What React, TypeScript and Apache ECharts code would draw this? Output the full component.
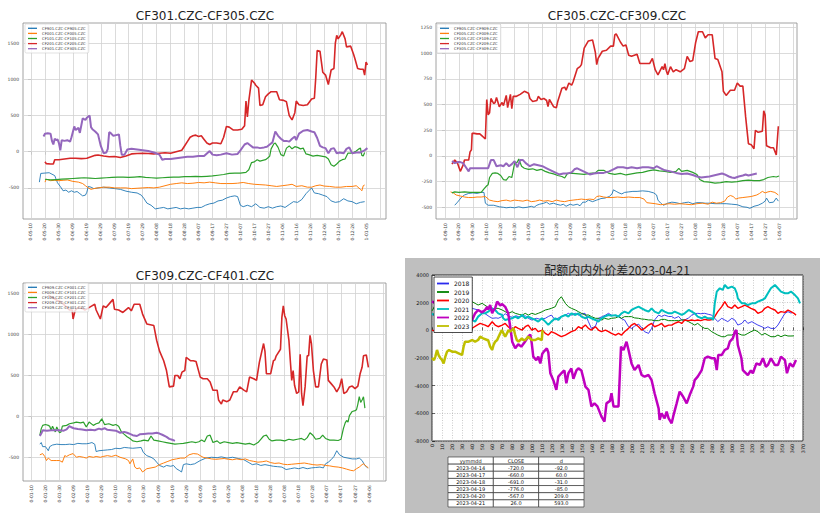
import React, { useEffect, useRef } from "react";
import * as echarts from "echarts";

// ---------------- tick labels ----------------
const p1XLabels = ["0-05-10","0-05-20","0-05-30","0-06-09","0-06-19","0-06-29","0-07-09","0-07-19","0-07-29","0-08-08","0-08-18","0-08-28","0-09-07","0-09-17","0-09-27","0-10-07","0-10-17","0-10-27","0-11-06","0-11-16","0-11-26","0-12-06","0-12-16","0-12-26","1-01-05"];
const p2XLabels = ["0-09-10","0-09-20","0-09-30","0-10-10","0-10-20","0-10-30","0-11-09","0-11-19","0-11-29","0-12-09","0-12-19","0-12-29","1-01-08","1-01-18","1-01-28","1-02-07","1-02-17","1-02-27","1-03-08","1-03-18","1-03-28","1-04-07","1-04-17","1-04-27","1-05-07"];
const p3XLabels = ["0-01-10","0-01-20","0-01-30","0-02-09","0-02-19","0-02-29","0-03-10","0-03-20","0-03-30","0-04-09","0-04-19","0-04-29","0-05-09","0-05-19","0-05-29","0-06-08","0-06-18","0-06-28","0-07-08","0-07-18","0-07-28","0-08-07","0-08-17","0-08-27","0-09-06"];
const dayTicks = [0,10,20,30,40,50,60,70,80,90,100,110,120,130,140,150,160,170,180,190,200,210,220,230,240,250];
const dayLabelTicks = [0,10,20,30,40,50,60,70,80,90,100,110,120,130,140,150,160,170,180,190,200,210,220,230,240];
const p1YTicks = [-500,0,500,1000,1500];
const p2YTicks = [-500,-250,0,250,500,750,1000,1250];
const p3YTicks = [-500,0,500,1000,1500];

// ---------------- series names ----------------
const p1Names = ["CF901.CZC-CF905.CZC","CF001.CZC-CF005.CZC","CF101.CZC-CF105.CZC","CF201.CZC-CF205.CZC","CF301.CZC-CF305.CZC"];
const p2Names = ["CF905.CZC-CF909.CZC","CF005.CZC-CF009.CZC","CF105.CZC-CF109.CZC","CF205.CZC-CF209.CZC","CF305.CZC-CF309.CZC"];
const p3Names = ["CF909.CZC-CF001.CZC","CF009.CZC-CF101.CZC","CF109.CZC-CF201.CZC","CF209.CZC-CF301.CZC","CF309.CZC-CF401.CZC"];
const p4Names = ["2018","2019","2020","2021","2022","2023"];

// ---------------- panel 1 : CF301-CF305 ([day, spread]) ----------------
const p1Blue = [[6,-420],[7,-300],[10,-295],[13,-290],[15,-310],[17,-330],[19,-430],[21,-480],[23,-540],[25,-530],[27,-560],[29,-540],[31,-560],[33,-550],[35,-580],[37,-610],[39,-600],[40,-560],[41,-480],[43,-490],[45,-510],[48,-500],[52,-490],[56,-500],[60,-510],[64,-520],[68,-545],[72,-560],[76,-570],[79,-600],[81,-650],[83,-710],[86,-740],[89,-790],[92,-780],[95,-770],[98,-790],[101,-780],[104,-770],[107,-790],[110,-780],[113,-790],[116,-780],[119,-770],[122,-770],[125,-740],[128,-720],[131,-710],[134,-680],[137,-670],[140,-640],[143,-620],[146,-610],[148,-620],[150,-740],[152,-760],[155,-740],[158,-760],[161,-720],[164,-770],[167,-780],[170,-760],[173,-780],[176,-760],[179,-750],[182,-770],[185,-730],[188,-690],[191,-700],[194,-660],[197,-580],[199,-540],[201,-500],[203,-570],[206,-580],[209,-600],[212,-620],[215,-680],[218,-700],[221,-690],[224,-650],[227,-680],[230,-690],[233,-720],[236,-700],[239,-690]];
const p1Orange = [[10,-420],[11,-380],[14,-400],[17,-395],[20,-400],[23,-395],[26,-390],[30,-410],[34,-420],[37,-440],[39,-470],[41,-500],[43,-520],[45,-510],[48,-500],[52,-490],[56,-490],[60,-500],[64,-500],[68,-500],[72,-510],[76,-505],[80,-500],[84,-495],[88,-500],[92,-490],[96,-470],[100,-450],[104,-440],[108,-430],[112,-440],[116,-435],[120,-425],[124,-430],[128,-420],[132,-430],[136,-440],[140,-440],[144,-440],[148,-435],[152,-425],[156,-440],[160,-450],[164,-455],[168,-460],[172,-470],[176,-480],[180,-470],[184,-460],[187,-450],[190,-480],[194,-470],[198,-490],[201,-490],[204,-470],[207,-460],[210,-475],[214,-480],[218,-490],[222,-490],[226,-480],[230,-480],[233,-470],[236,-520],[237,-540],[238,-470],[239,-460]];
const p1Green = [[10,-380],[14,-390],[18,-385],[22,-380],[26,-375],[30,-370],[34,-365],[38,-360],[42,-365],[46,-370],[50,-365],[54,-360],[58,-355],[62,-350],[66,-350],[70,-355],[74,-350],[78,-345],[82,-355],[86,-360],[90,-365],[94,-360],[98,-355],[102,-350],[106,-350],[110,-345],[114,-345],[118,-340],[122,-345],[126,-340],[130,-335],[134,-325],[138,-315],[142,-300],[146,-295],[150,-295],[154,-285],[156,-250],[158,-150],[160,-140],[162,-110],[164,-130],[166,-120],[168,-110],[170,-80],[171,-60],[172,40],[174,110],[175,120],[177,60],[179,-40],[181,-60],[183,50],[185,80],[187,40],[189,70],[191,60],[193,40],[195,50],[197,-30],[199,-40],[202,-60],[205,-50],[208,-60],[211,-70],[213,-100],[215,-180],[217,-200],[219,-170],[221,-130],[223,-110],[225,-100],[227,-20],[229,-20],[231,-10],[233,10],[235,40],[236,50],[237,-50],[238,-60],[239,-10]];
const p1Red = [[10,-140],[11,-165],[14,-170],[16,-170],[17,-110],[20,-110],[24,-100],[28,-90],[32,-90],[36,-95],[40,-90],[43,-70],[46,-50],[48,-45],[52,-60],[56,-70],[60,-65],[64,-80],[68,-60],[72,-30],[76,-25],[80,-20],[84,-25],[88,-30],[92,-20],[96,-15],[100,-20],[104,0],[106,10],[108,20],[110,80],[112,140],[114,200],[116,220],[118,230],[120,210],[122,220],[124,170],[126,120],[128,100],[130,120],[133,120],[136,110],[138,200],[140,350],[142,340],[145,300],[148,300],[151,310],[153,360],[154,700],[155,480],[156,700],[158,990],[160,950],[161,920],[163,880],[164,640],[166,650],[168,760],[170,800],[172,830],[176,830],[178,720],[181,710],[183,690],[185,500],[187,440],[189,540],[190,700],[192,650],[195,640],[198,650],[201,730],[203,740],[204,1030],[205,1400],[207,1390],[209,1100],[211,1060],[213,930],[215,1130],[217,1150],[218,1500],[219,1610],[220,1560],[222,1620],[223,1660],[225,1560],[226,1450],[229,1460],[231,1350],[232,1290],[234,1150],[236,1140],[238,1140],[239,1060],[240,1240],[241,1200]];
const p1Purple = [[9,210],[10,250],[12,255],[14,250],[15,150],[16,100],[17,180],[18,160],[19,170],[20,120],[21,20],[22,160],[24,150],[26,160],[28,140],[29,200],[31,350],[32,300],[34,330],[35,260],[37,460],[39,440],[40,470],[42,500],[43,340],[44,310],[46,280],[48,240],[50,80],[52,-20],[54,-10],[55,40],[56,270],[57,260],[59,220],[61,230],[63,240],[64,80],[65,-40],[67,-40],[69,30],[72,40],[76,30],[80,20],[84,10],[88,-10],[92,-40],[94,-110],[96,-100],[100,-100],[104,-90],[108,-80],[112,-70],[116,-70],[120,-60],[124,-60],[128,10],[130,-40],[133,-50],[136,-40],[140,-20],[144,-40],[148,-30],[150,20],[153,100],[155,120],[157,90],[159,60],[162,60],[164,50],[167,60],[169,70],[171,100],[173,130],[175,280],[177,220],[179,180],[181,150],[183,150],[185,140],[187,180],[189,210],[190,160],[192,250],[195,290],[198,300],[201,280],[203,270],[205,190],[207,80],[209,60],[211,50],[213,-20],[215,40],[217,50],[219,-20],[221,-10],[224,-20],[226,40],[228,60],[230,-20],[233,-10],[236,-10],[239,20],[241,50]];

// ---------------- panel 2 : CF305-CF309 ----------------
const p2Blue = [[7,-480],[9,-450],[12,-400],[14,-380],[17,-365],[20,-360],[23,-365],[26,-355],[28,-355],[29,-460],[31,-480],[35,-480],[39,-495],[42,-500],[44,-505],[47,-500],[50,-505],[53,-495],[56,-505],[59,-500],[62,-490],[64,-500],[66,-480],[68,-470],[71,-460],[73,-450],[75,-470],[78,-460],[80,-470],[83,-480],[85,-470],[87,-490],[90,-470],[92,-480],[95,-470],[97,-485],[99,-450],[101,-450],[103,-430],[106,-445],[109,-430],[112,-415],[115,-410],[118,-395],[120,-370],[121,-330],[123,-345],[125,-360],[127,-370],[129,-355],[132,-350],[135,-345],[138,-345],[142,-340],[146,-345],[150,-360],[152,-380],[153,-430],[155,-460],[157,-480],[160,-460],[163,-450],[166,-455],[169,-465],[172,-455],[175,-450],[178,-465],[181,-455],[184,-455],[187,-460],[190,-460],[194,-465],[198,-465],[202,-465],[206,-470],[210,-475],[214,-495],[217,-500],[219,-510],[222,-490],[225,-480],[228,-460],[230,-440],[231,-410],[233,-455],[236,-450],[238,-410],[239.5,-440]];
const p2Orange = [[4,-350],[6,-360],[8,-380],[11,-390],[14,-400],[17,-405],[20,-405],[23,-400],[26,-400],[29,-395],[32,-430],[35,-440],[38,-445],[41,-435],[44,-430],[47,-440],[50,-430],[53,-435],[56,-440],[59,-430],[62,-445],[65,-440],[68,-430],[71,-440],[74,-435],[77,-445],[80,-430],[83,-440],[86,-445],[89,-435],[92,-430],[95,-425],[98,-420],[101,-425],[104,-420],[107,-425],[109,-395],[111,-390],[114,-400],[117,-405],[120,-405],[124,-400],[128,-405],[132,-400],[136,-405],[140,-405],[143,-420],[145,-455],[148,-460],[151,-465],[155,-475],[158,-470],[161,-465],[165,-470],[169,-465],[173,-470],[177,-475],[181,-465],[185,-460],[189,-470],[192,-450],[195,-460],[198,-455],[201,-440],[203,-400],[205,-385],[207,-395],[209,-420],[211,-410],[214,-405],[217,-400],[220,-395],[224,-380],[226,-365],[228,-345],[230,-360],[232,-350],[234,-345],[237,-355],[239.5,-380]];
const p2Green = [[5,-360],[7,-350],[10,-355],[14,-350],[18,-355],[22,-355],[26,-355],[28,-320],[30,-290],[31,-280],[32,-210],[34,-170],[36,-165],[38,-170],[40,-190],[42,-230],[44,-235],[46,-200],[48,-210],[50,-70],[52,-60],[53,-30],[55,-100],[57,-120],[60,-130],[63,-125],[66,-140],[69,-130],[72,-150],[75,-165],[78,-175],[81,-190],[84,-200],[86,-215],[88,-170],[92,-170],[96,-175],[100,-180],[104,-170],[108,-165],[110,-140],[114,-140],[118,-170],[122,-180],[126,-170],[130,-185],[134,-175],[138,-165],[142,-160],[146,-145],[150,-135],[154,-145],[158,-150],[162,-160],[166,-150],[168,-120],[170,-150],[174,-140],[178,-160],[181,-180],[183,-230],[186,-250],[190,-255],[194,-265],[198,-260],[202,-250],[206,-255],[210,-250],[214,-240],[218,-235],[222,-240],[226,-240],[229,-230],[232,-210],[236,-200],[238,-205],[240,-195]];
const p2Red = [[5,-80],[7,-40],[9,-70],[11,-150],[13,-90],[14,-40],[17,-40],[18,40],[19,60],[19.5,220],[21,220],[23,215],[25,215],[27,190],[29,165],[30,550],[31,400],[32,420],[33,560],[35,510],[36,520],[37,570],[39,480],[41,520],[42,490],[44,590],[45,470],[47,600],[48,460],[49,580],[51,580],[54,600],[57,630],[60,610],[61,560],[63,530],[66,540],[67,580],[69,550],[71,560],[73,540],[74,480],[75,550],[78,480],[80,470],[81,530],[84,660],[86,670],[87,640],[89,710],[91,690],[92,720],[95,850],[97,870],[98,890],[100,1050],[103,1120],[106,1130],[108,1010],[109,890],[110,950],[113,1020],[116,1030],[119,1070],[121,1070],[122,1180],[123,1190],[126,1110],[128,1070],[130,1080],[132,980],[134,970],[138,990],[140,900],[147,900],[149,950],[151,840],[153,790],[156,870],[157,840],[158,900],[159,830],[160,790],[162,870],[164,820],[166,840],[169,820],[172,850],[174,970],[176,920],[178,930],[180,1100],[182,1210],[185,1210],[187,1150],[189,1180],[192,1180],[194,950],[196,940],[199,820],[200,630],[202,590],[205,640],[208,640],[210,710],[212,680],[214,680],[216,380],[218,120],[220,110],[222,70],[223,250],[225,230],[228,240],[229,440],[230,400],[231,100],[234,80],[236,80],[238,10],[239.5,290]];
const p2Purple = [[5,-50],[7,-70],[9,-60],[11,-60],[13,-70],[15,-110],[17,-150],[18,-120],[20,-120],[24,-120],[28,-120],[31,-120],[32,-80],[33,-40],[35,-40],[37,-100],[40,-90],[42,-100],[44,-70],[46,-100],[48,-80],[50,-50],[52,-110],[54,-40],[56,-40],[58,-70],[61,-100],[64,-80],[67,-90],[70,-100],[73,-120],[76,-140],[79,-160],[82,-180],[85,-170],[88,-170],[91,-160],[93,-130],[95,-120],[98,-140],[101,-160],[104,-180],[107,-170],[110,-165],[114,-165],[118,-150],[121,-130],[124,-110],[128,-110],[131,-120],[134,-110],[138,-120],[142,-110],[146,-110],[150,-120],[152,-100],[155,-120],[158,-140],[162,-150],[166,-165],[170,-175],[174,-170],[178,-185],[181,-200],[184,-210],[187,-205],[190,-200],[193,-190],[196,-180],[199,-170],[201,-180],[204,-200],[206,-210],[208,-215],[211,-200],[214,-190],[216,-180],[218,-190],[221,-180],[224,-170]];

// ---------------- panel 3 : CF309-CF401 ----------------
const p3Blue = [[6,-340],[7,-320],[8,-370],[10,-370],[12,-420],[13,-370],[15,-350],[18,-340],[21,-345],[24,-345],[27,-340],[30,-345],[33,-330],[36,-335],[39,-335],[41,-330],[43,-320],[45,-340],[46,-430],[48,-420],[51,-415],[54,-410],[57,-405],[60,-390],[63,-395],[66,-380],[69,-385],[72,-390],[75,-385],[78,-380],[79.5,-440],[82,-480],[85,-500],[87,-520],[89,-560],[91,-600],[94,-620],[96,-600],[99,-610],[101,-600],[103,-640],[105,-660],[106.7,-680],[108,-590],[110,-580],[113,-590],[116,-580],[120,-540],[124,-510],[128,-500],[132,-505],[135,-495],[139,-510],[143,-500],[147,-515],[151,-530],[154,-560],[157,-590],[160,-580],[163,-600],[166,-590],[169,-600],[172,-610],[175,-615],[178,-620],[181,-650],[184,-640],[187,-630],[190,-640],[193,-625],[196,-640],[199,-630],[202,-625],[205,-620],[207.5,-630],[209,-580],[211,-560],[213,-530],[215,-490],[217,-420],[219,-470],[222,-500],[225,-510],[228,-520],[231,-520],[233,-510],[235,-540],[237,-600],[239,-630]];
const p3Orange = [[6,-470],[8,-455],[9.5,-490],[10.7,-540],[12,-510],[14,-540],[16,-540],[18,-540],[20,-540],[22,-560],[23.7,-480],[25,-490],[27,-470],[29.6,-455],[32,-500],[34,-490],[37,-500],[39,-510],[41,-490],[44,-500],[46,-490],[49,-500],[51,-490],[54,-480],[57,-490],[60,-475],[63,-500],[65,-510],[67,-520],[69,-540],[70,-580],[72,-520],[73.5,-620],[75,-640],[77,-630],[79,-680],[82,-640],[85,-630],[88,-620],[91,-590],[94,-570],[97,-550],[100,-530],[103,-520],[106,-510],[109,-510],[112,-470],[115,-455],[118,-460],[120,-480],[122,-500],[125,-510],[128,-520],[131,-525],[134,-520],[137,-515],[140,-525],[143,-530],[146,-520],[149,-530],[152,-520],[155,-540],[158,-550],[161,-560],[164,-555],[167,-545],[170,-565],[173,-575],[176,-570],[179,-585],[182,-590],[185,-585],[188,-580],[191,-575],[194,-570],[197,-580],[200,-590],[203,-595],[206,-590],[209,-600],[212,-605],[215,-615],[218,-620],[221,-630],[224,-645],[227,-660],[229,-665],[231,-640],[233,-620],[235,-590],[236,-580],[238,-610],[239.5,-630]];
const p3Green = [[6,-230],[7,-150],[8,-110],[10,-100],[12,-110],[13,-120],[14,-170],[15,-120],[17,-190],[18,-130],[20,-200],[21,-190],[22,-120],[25,-110],[27,-90],[30,-80],[32,-70],[35,-80],[37,-70],[39,-130],[41,-70],[44,-110],[46,-90],[48,-80],[50,-30],[52,-100],[55,-90],[58,-110],[60,-100],[62,-120],[64,-190],[66,-220],[68,-250],[70,-270],[72,-300],[75,-310],[78,-300],[80,-290],[83,-300],[85,-240],[87,-290],[90,-300],[93,-310],[96,-320],[99,-330],[102,-340],[105,-335],[108,-330],[111,-320],[114,-310],[117,-320],[119,-310],[121,-290],[123,-310],[125,-240],[127,-230],[129,-320],[132,-300],[134,-330],[137,-310],[140,-320],[143,-330],[146,-320],[149,-330],[152,-340],[155,-330],[158,-350],[161,-320],[163,-280],[165,-240],[167,-230],[169,-280],[171,-300],[174,-290],[177,-290],[180,-300],[183,-280],[186,-290],[189,-280],[192,-270],[194,-290],[196,-260],[198,-200],[200,-230],[202,-280],[205,-270],[207,-230],[209,-270],[212,-290],[215,-290],[218,-295],[220,-280],[221.7,-150],[223,-80],[224,-50],[225,-70],[226,10],[228,60],[230,70],[231,80],[232,150],[233,240],[234,170],[235,200],[236,240],[237,100]];
const p3Red = [[12,1480],[15,1450],[18,1420],[21,1400],[24,1350],[27,1300],[29,1300],[29.6,1190],[31,1290],[33,1330],[36,1320],[38,1300],[40,1320],[43,1350],[45,1370],[46,1300],[49,1190],[51,1350],[53,1330],[56,1390],[58,1430],[59,1310],[62,1300],[65,1270],[69,1330],[71,1290],[73,1370],[77,1370],[79,1250],[82,1130],[87,1110],[89,930],[91,800],[94,680],[96,560],[98,360],[101,370],[102,500],[104,500],[105.5,460],[107,540],[109,560],[110,720],[113,680],[115,680],[117,670],[120,480],[122,460],[125,460],[127,420],[129,320],[132,320],[133,200],[135,150],[136,200],[139,180],[141,200],[143.5,300],[146,300],[148,360],[151,320],[153,300],[155,480],[158,460],[160,440],[162,660],[165,890],[166,790],[167,520],[170,520],[172,680],[173,690],[174,740],[177,820],[178,1210],[179,1350],[180,1230],[181,1190],[183,930],[184,680],[185,440],[186,560],[187,380],[188.5,280],[190,300],[191,760],[192,280],[193,130],[194.5,360],[196,740],[197,740],[198,990],[199,890],[200.4,560],[202,360],[204,360],[206,640],[207.5,700],[210,690],[211,440],[213,400],[215,360],[217,300],[219,360],[220.5,460],[222,280],[224,300],[226,360],[228,370],[230,340],[232,370],[233.6,520],[235,600],[236,740],[238,750],[239.5,600]];
const p3Purple = [[6,-240],[7,-210],[8,-170],[11,-175],[14,-170],[17,-170],[20,-170],[23,-175],[25,-160],[27,-120],[28,-130],[30,-145],[33,-155],[36,-160],[39,-170],[42,-165],[45,-170],[48,-150],[50,-160],[52,-145],[54,-165],[57,-170],[60,-175],[63,-200],[66,-190],[68,-200],[70,-215],[72,-230],[75,-240],[77,-220],[80,-215],[83,-210],[86,-210],[89,-200],[91,-210],[93,-225],[96,-250],[98,-275],[100,-285],[102,-300]];

// ---------------- panel 4 : 配额内内外价差 ([day index, spread]) ----------------
const y2018 = [[0,1100],[5,1300],[10,1000],[15,1200],[20,1400],[25,1300],[30,1500],[35,1600],[40,1590],[46,1470],[50,1300],[53,1200],[57,1000],[60,870],[64,900],[66,870],[70,1000],[73,1200],[77,1000],[80,950],[84,1050],[86,990],[90,1000],[93,1050],[96,870],[99.5,750],[104,870],[108,800],[113,870],[116,1000],[119,1100],[123,750],[126,900],[129,1000],[133,1100],[136,1230],[139,1100],[143,1230],[146,1100],[150,1200],[152.6,1230],[156,630],[159,140],[163,300],[166,870],[170,1000],[173,1100],[176,1230],[179,1100],[183,1050],[186,1000],[190,800],[192,750],[196,260],[199,140],[202,300],[206,450],[209,200],[212,-100],[216,-220],[219,140],[222,750],[226,1100],[229,1000],[232,1100],[236,1000],[239,1000],[242,870],[246,1000],[249,750],[252,750],[256,900],[259,1100],[262,1200],[265,1230],[268,1200],[272,1230],[276,1150],[279,1100],[282,870],[285,630],[289,870],[292,750],[295,630],[299,870],[302,750],[305,380],[309,500],[312,750],[315,500],[319,630],[322,500],[325,380],[329,260],[332,140],[335,260],[338,140],[342,140],[345,380],[348,750],[352,1230],[355,1350],[358,1250],[360,1300]];
const y2019 = [[0,1400],[3,1800],[6,1600],[10,1500],[15,1700],[20,1600],[25,1800],[30,1700],[33,1710],[36.5,1830],[40,2070],[43,1950],[46,1830],[50,1950],[55,1710],[60,1470],[63,1590],[66,1590],[70,1470],[73,1350],[76,1230],[80,1350],[83,1230],[87,1150],[90,1100],[93,1230],[96,1100],[99.5,1230],[103,1150],[106,1230],[110,1350],[113,1470],[116,1520],[119,1590],[123,1710],[124.4,1950],[126,2190],[129,2430],[131,2190],[133,1950],[136,1710],[139,1590],[143,1470],[146,1350],[149,1230],[153,1100],[156,1110],[159,990],[163,870],[166,870],[169,750],[172,870],[176,800],[179,870],[183,900],[186,990],[189,870],[192,990],[196,990],[199,990],[202,900],[206,870],[209,820],[212,800],[216,750],[219,750],[222,700],[226,700],[229,790],[232,790],[236,700],[239,700],[242,700],[246,700],[249,750],[252,750],[256,620],[259,500],[262,380],[265,500],[269,260],[272,140],[275,140],[279,-100],[282,-220],[285,-340],[289,-460],[292,-460],[295,-340],[299,-340],[302,-220],[305,-220],[309,-340],[312,-340],[315,-220],[318,-100],[322,20],[325,-100],[329,-340],[332,-220],[335,-340],[338,-460],[342,-460],[345,-340],[348,-460],[352,-340],[355,-410],[358,-410],[361,-400]];
const y2020 = [[0,20],[3,-50],[7,-20],[10,-80],[13,20],[17,-60],[20,140],[23,-50],[26,80],[30,260],[33,140],[36,260],[40,150],[45,380],[48,500],[53,380],[56,260],[60,620],[63,380],[66,260],[70,380],[73,500],[76,260],[80,20],[83,260],[86,140],[90,20],[93,260],[96,380],[99.5,20],[103,140],[106,-100],[110,20],[113,-220],[116,-340],[119,-100],[123,-220],[126,-340],[129,-460],[133,-340],[136,-220],[139,-100],[143,20],[146,260],[149,140],[153,380],[156,140],[159,20],[163,260],[166,20],[169,-100],[173,20],[176,-100],[179,-220],[183,-340],[186,-220],[189,-340],[192,-100],[196,140],[199,380],[202,500],[206,260],[209,20],[212,140],[216,380],[219,500],[222,260],[226,380],[229,500],[232,260],[236,380],[239,380],[242,500],[246,620],[249,500],[252,750],[256,700],[259,750],[262,700],[265,750],[268,700],[272,790],[275,750],[277,750],[280,790],[282,990],[285,1350],[289,1710],[292,2070],[295,1710],[299,1590],[302,1830],[305,1590],[309,1710],[312,1830],[315,1710],[318,1590],[322,1470],[325,1230],[329,1350],[332,1590],[335,1710],[338,1590],[342,1470],[345,1230],[348,1350],[352,1300],[355,1470],[358,1350],[361,1230],[363,1100]];
const y2021 = [[0,1200],[5,1000],[10,900],[15,1100],[20,1000],[25,900],[30,870],[33,1110],[36.5,1110],[40,750],[43,630],[46,990],[50,1230],[53,1230],[56,1350],[60,1590],[63,1470],[66,1230],[70,1110],[71,870],[73,750],[80,870],[83,990],[86,870],[90,1110],[93,870],[96,990],[99.5,870],[103,750],[106,630],[109.5,870],[113,630],[116,390],[119,630],[123,870],[126,750],[129,990],[133,1110],[136,990],[139,1230],[143,1110],[146,1230],[149,990],[153,870],[156,990],[159,870],[163,750],[166,630],[169,870],[172,990],[176,1110],[179,1050],[183,1100],[186,990],[189,1230],[192,1350],[196,1230],[199,1470],[202,1590],[206,1710],[209,1590],[212,1470],[216,1350],[219,1590],[222,1350],[226,1230],[229,1470],[232,1350],[236,1230],[239,1230],[242,1350],[246,1230],[249,1110],[252,1230],[256,1470],[259,1350],[262,1230],[265,990],[269,870],[272,990],[275,870],[279,870],[280.4,750],[282,1950],[284,2800],[287,3040],[290,2920],[292,3280],[295,3040],[299,3160],[302,3040],[304,2680],[305,2310],[309,1950],[312,1950],[315,1830],[319,1950],[322,1950],[325,2070],[329,2190],[332,2310],[335,2680],[338,3040],[342,3280],[345,3040],[348,2800],[352,2680],[355,2680],[358,2800],[362,2550],[365,2310],[367,1950]];
const y2022 = [[0,2100],[5,1900],[10,1500],[15,1200],[20,1000],[25,900],[30,800],[35,700],[40,750],[43,1230],[46,1470],[50,1300],[53,1470],[55,1700],[56,1500],[58,1830],[60,1230],[61,1400],[63,1600],[65,2070],[66,2000],[68,1800],[70,1900],[73,1700],[76,1230],[78,260],[80,-820],[83,-1300],[86,-1000],[89,-1180],[92,-900],[96,-460],[98,-300],[99.5,-940],[101,-1900],[104,-2150],[106,-1900],[108,-2390],[110,-1700],[112,-1500],[114.5,-1300],[116,-1600],[118,-3100],[121,-3600],[124,-4300],[126,-3350],[129,-3100],[132,-2900],[134,-3830],[136,-3100],[139,-2750],[141,-3500],[144,-2900],[146,-2750],[149,-2900],[151,-3470],[153,-4070],[156,-4300],[159,-5500],[162,-5280],[165,-5500],[169,-6240],[172,-6600],[174,-5280],[177.5,-5100],[179,-4550],[181,-5500],[186,-5500],[188.5,-1180],[191,-1420],[194,-820],[196,-1420],[199,-2390],[202,-2870],[206,-2500],[209,-3230],[212,-3350],[216,-3230],[219,-3600],[222,-4550],[226,-5640],[227,-6480],[229,-6000],[232,-6360],[234,-5880],[236,-6360],[239,-6720],[240.5,-6240],[244,-5280],[247,-4430],[250.5,-4800],[254,-5280],[257,-4680],[260.5,-4070],[262,-3600],[265,-3350],[269,-2870],[272,-2020],[275,-1900],[279,-2020],[282,-2020],[284,-2870],[285.5,-1780],[289,-1780],[292,-1420],[295,-1300],[297,-820],[300,-580],[302,-100],[303.6,20],[305,-1060],[308.6,-2020],[310,-2870],[315,-3230],[318,-2900],[320,-3100],[323.5,-2390],[327,-2500],[330,-2020],[333,-2630],[335,-2500],[338,-2020],[342,-2500],[345,-2510],[348,-1900],[352,-2150],[354,-3100],[357,-2390],[360,-2630],[363,-2150]];
const y2023 = [[0,-2000],[2,-2150],[3.3,-1900],[5,-1420],[6.6,-1800],[8.3,-2000],[10,-2150],[11.6,-2390],[13.3,-1900],[15,-1540],[17,-1420],[20,-1540],[23,-1540],[26.5,-1660],[30,-1780],[31.5,-1180],[33,-820],[36.5,-820],[40,-700],[43,-820],[46,-700],[48,-460],[51,-580],[55,-700],[56,-700],[58,-1180],[60,-1420],[61.4,-1050],[63,-820],[65,-700],[66.4,-460],[68,-220],[69.7,20],[71.3,-220],[73,-460],[74.7,-220],[76.3,20],[78,-100],[79.6,20],[81.3,140],[83,-340],[84.6,-700],[86.3,-820],[88,-700],[89.6,-580],[91.2,-700],[93,-700],[96,-460],[99.5,-700],[103,-700],[106,-580],[109.5,-700],[110.2,20]];

// ---------------- table ----------------
const tblHeader = ["yymmdd", "CLOSE", "d"];
const tblDates = ["2023-04-14","2023-04-17","2023-04-18","2023-04-19","2023-04-20","2023-04-21"];
const tblClose = [-720, -660, -691, -776, -567, 26];
const tblD = [-92, 60, -31, -85, 209, 593];

const FONT = "DejaVu Sans";
const TAB = ["#1f77b4", "#ff7f0e", "#2ca02c", "#d62728", "#9467bd"];
const TABW = [0.9, 1.0, 1.2, 1.6, 2.0];
const CLASSIC = ["#2a2aee", "#008000", "#ff0000", "#00bfbf", "#bf00bf", "#bfbf00"];
const CLASSICW = [0.9, 1.0, 1.4, 2.0, 2.5, 2.5];

function buildOption() {
  const panels = [
    { left: 23, top: 23, width: 363, height: 196, xmin: -5.73, xmax: 254.3, ymin: -930, ymax: 1780, yTicks: p1YTicks, xLabels: p1XLabels, names: p1Names, data: [p1Blue, p1Orange, p1Green, p1Red, p1Purple], lgLeft: 25, lgTop: 24, title: "CF301.CZC-CF305.CZC", tx: 205, ty: 16 },
    { left: 436, top: 23, width: 361, height: 196, xmin: -6.47, xmax: 252.9, ymin: -614, ymax: 1295, yTicks: p2YTicks, xLabels: p2XLabels, names: p2Names, data: [p2Blue, p2Orange, p2Green, p2Red, p2Purple], lgLeft: 437, lgTop: 24, title: "CF305.CZC-CF309.CZC", tx: 617, ty: 16 },
    { left: 23, top: 283, width: 363, height: 198, xmin: -5.98, xmax: 252, ymin: -790, ymax: 1630, yTicks: p3YTicks, xLabels: p3XLabels, names: p3Names, data: [p3Blue, p3Orange, p3Green, p3Red, p3Purple], lgLeft: 25, lgTop: 283, title: "CF309.CZC-CF401.CZC", tx: 205, ty: 276 },
  ];
  const grids: any[] = [];
  const xAxes: any[] = [];
  const yAxes: any[] = [];
  const series: any[] = [];
  const legends: any[] = [];
  const graphics: any[] = [];

  graphics.push({ type: "rect", z: -100, silent: true, shape: { x: 405, y: 258, width: 415, height: 255 }, style: { fill: "#bfbfbf" } });

  panels.forEach((p, pi) => {
    grids.push({ left: p.left, top: p.top, width: p.width, height: p.height, show: true, borderColor: "#8c8c8c", borderWidth: 0.8, backgroundColor: "#ffffff", containLabel: false });
    xAxes.push({
      gridIndex: pi, type: "value", min: p.xmin, max: p.xmax,
      axisLine: { show: false }, splitLine: { show: false },
      axisTick: { show: true, customValues: dayTicks, length: 3, lineStyle: { color: "#555", width: 0.6 } },
      axisLabel: { customValues: dayLabelTicks, rotate: 90, fontSize: 4.5, color: "#444", fontFamily: FONT, margin: 4,
        formatter: (v: number) => p.xLabels[Math.round(v / 10)] ?? "" },
    });
    yAxes.push({
      gridIndex: pi, type: "value", min: p.ymin, max: p.ymax,
      axisLine: { show: false }, splitLine: { show: false },
      axisTick: { show: true, customValues: p.yTicks, length: 3, lineStyle: { color: "#555", width: 0.6 } },
      axisLabel: { customValues: p.yTicks, fontSize: 4.5, color: "#444", fontFamily: FONT, margin: 4, formatter: (v: number) => String(v) },
    });
    p.names.forEach((name, i) => {
      const s: any = {
        type: "line", name, xAxisIndex: pi, yAxisIndex: pi, data: p.data[i],
        symbol: "none", showSymbol: false, z: 3 + i,
        lineStyle: { color: TAB[i], width: TABW[i] }, itemStyle: { color: TAB[i] },
        emphasis: { disabled: true },
      };
      if (i === 0) {
        s.markLine = {
          silent: true, symbol: ["none", "none"], z: 1, animation: false,
          label: { show: false }, emphasis: { disabled: true },
          lineStyle: { color: "#d2d2d2", width: 0.8, type: "solid" },
          data: [...dayTicks.map((v) => ({ xAxis: v })), ...p.yTicks.map((v) => ({ yAxis: v }))],
        };
      }
      series.push(s);
    });
    legends.push({
      data: p.names, left: p.lgLeft, top: p.lgTop, orient: "vertical", z: 30,
      icon: "rect", itemWidth: 9, itemHeight: 1.3, itemGap: 0.5,
      padding: [2, 3, 2, 3], backgroundColor: "rgba(255,255,255,0.8)", borderColor: "#cccccc", borderWidth: 0.6, borderRadius: 1.5,
      textStyle: { fontSize: 3.8, lineHeight: 4.6, color: "#333", fontFamily: FONT },
      selectedMode: false,
    });
    graphics.push({ type: "text", x: p.tx, y: p.ty, silent: true, style: { text: p.title, fontSize: 12, fontFamily: FONT, fill: "#222", textAlign: "center", textVerticalAlign: "middle" } });
  });

  // ---- panel 4 ----
  const g4 = 3;
  grids.push({ left: 432, top: 275, width: 371, height: 166, show: true, borderColor: "#000", borderWidth: 0.8, backgroundColor: "#ffffff" });
  xAxes.push({
    gridIndex: g4, type: "value", min: 0, max: 370, interval: 10,
    axisLine: { show: false },
    splitLine: { show: true, lineStyle: { color: "#a8a8a8", width: 0.6, type: [1, 1.5] } },
    axisTick: { show: true, inside: true, length: 3, lineStyle: { color: "#000", width: 0.6 } },
    axisLabel: { rotate: 90, fontSize: 4.8, color: "#111", fontFamily: FONT, margin: 3, formatter: (v: number) => String(v) },
  });
  yAxes.push({
    gridIndex: g4, type: "value", min: -8000, max: 4000, interval: 2000,
    axisLine: { show: false },
    splitLine: { show: true, lineStyle: { color: "#a8a8a8", width: 0.6, type: [1, 1.5] } },
    axisTick: { show: true, inside: true, length: 3, lineStyle: { color: "#000", width: 0.6 } },
    axisLabel: { fontSize: 5, color: "#111", fontFamily: FONT, margin: 3, formatter: (v: number) => String(v) },
  });
  const p4Data = [y2018, y2019, y2020, y2021, y2022, y2023];
  p4Names.forEach((name, i) => {
    series.push({
      type: "line", name, xAxisIndex: g4, yAxisIndex: g4, data: p4Data[i],
      symbol: "none", showSymbol: false, z: 3 + i,
      lineStyle: { color: CLASSIC[i], width: CLASSICW[i] }, itemStyle: { color: CLASSIC[i] },
      emphasis: { disabled: true },
    });
  });
  legends.push({
    data: p4Names, left: 434, top: 277, orient: "vertical", z: 30,
    icon: "rect", itemWidth: 12, itemHeight: 1.8, itemGap: 1.5,
    padding: [3, 3, 3, 3], backgroundColor: "#ffffff", borderColor: "#000", borderWidth: 0.7,
    textStyle: { fontSize: 6, lineHeight: 7, color: "#111", fontFamily: FONT },
    selectedMode: false,
  });
  graphics.push({ type: "text", x: 617, y: 269, silent: true, style: { text: "配额内内外价差2023-04-21", fontSize: 12, fontFamily: "Noto Sans CJK SC", fill: "#222", textAlign: "center", textVerticalAlign: "middle" } });

  // ---- table ----
  const tx0 = 448, ty0 = 457, cw = 45.33, rh = 7.14;
  const rows: string[][] = [tblHeader, ...tblDates.map((d, i) => [d, tblClose[i].toFixed(1), tblD[i].toFixed(1)])];
  rows.forEach((r, ri) => {
    r.forEach((cell, ci) => {
      graphics.push({ type: "rect", z: 50, silent: true, shape: { x: tx0 + ci * cw, y: ty0 + ri * rh, width: cw, height: rh }, style: { fill: "#ffffff", stroke: "#222", lineWidth: 0.6 } });
      graphics.push({ type: "text", z: 51, silent: true, x: tx0 + ci * cw + cw / 2, y: ty0 + ri * rh + rh / 2, style: { text: cell, fontSize: 5, fontFamily: FONT, fill: "#111", textAlign: "center", textVerticalAlign: "middle" } });
    });
  });

  return {
    animation: false,
    backgroundColor: "#ffffff",
    grid: grids, xAxis: xAxes, yAxis: yAxes, series, legend: legends, graphic: graphics,
    tooltip: { show: false },
  };
}

export default function App() {
  const ref = useRef<HTMLDivElement>(null);
  useEffect(() => {
    if (!ref.current) return;
    const chart = echarts.init(ref.current, null, { renderer: "svg" });
    chart.setOption(buildOption() as any);
    return () => chart.dispose();
  }, []);
  return <div ref={ref} style={{ position: "absolute", left: 0, top: 0, width: 820, height: 520 }} />;
}
